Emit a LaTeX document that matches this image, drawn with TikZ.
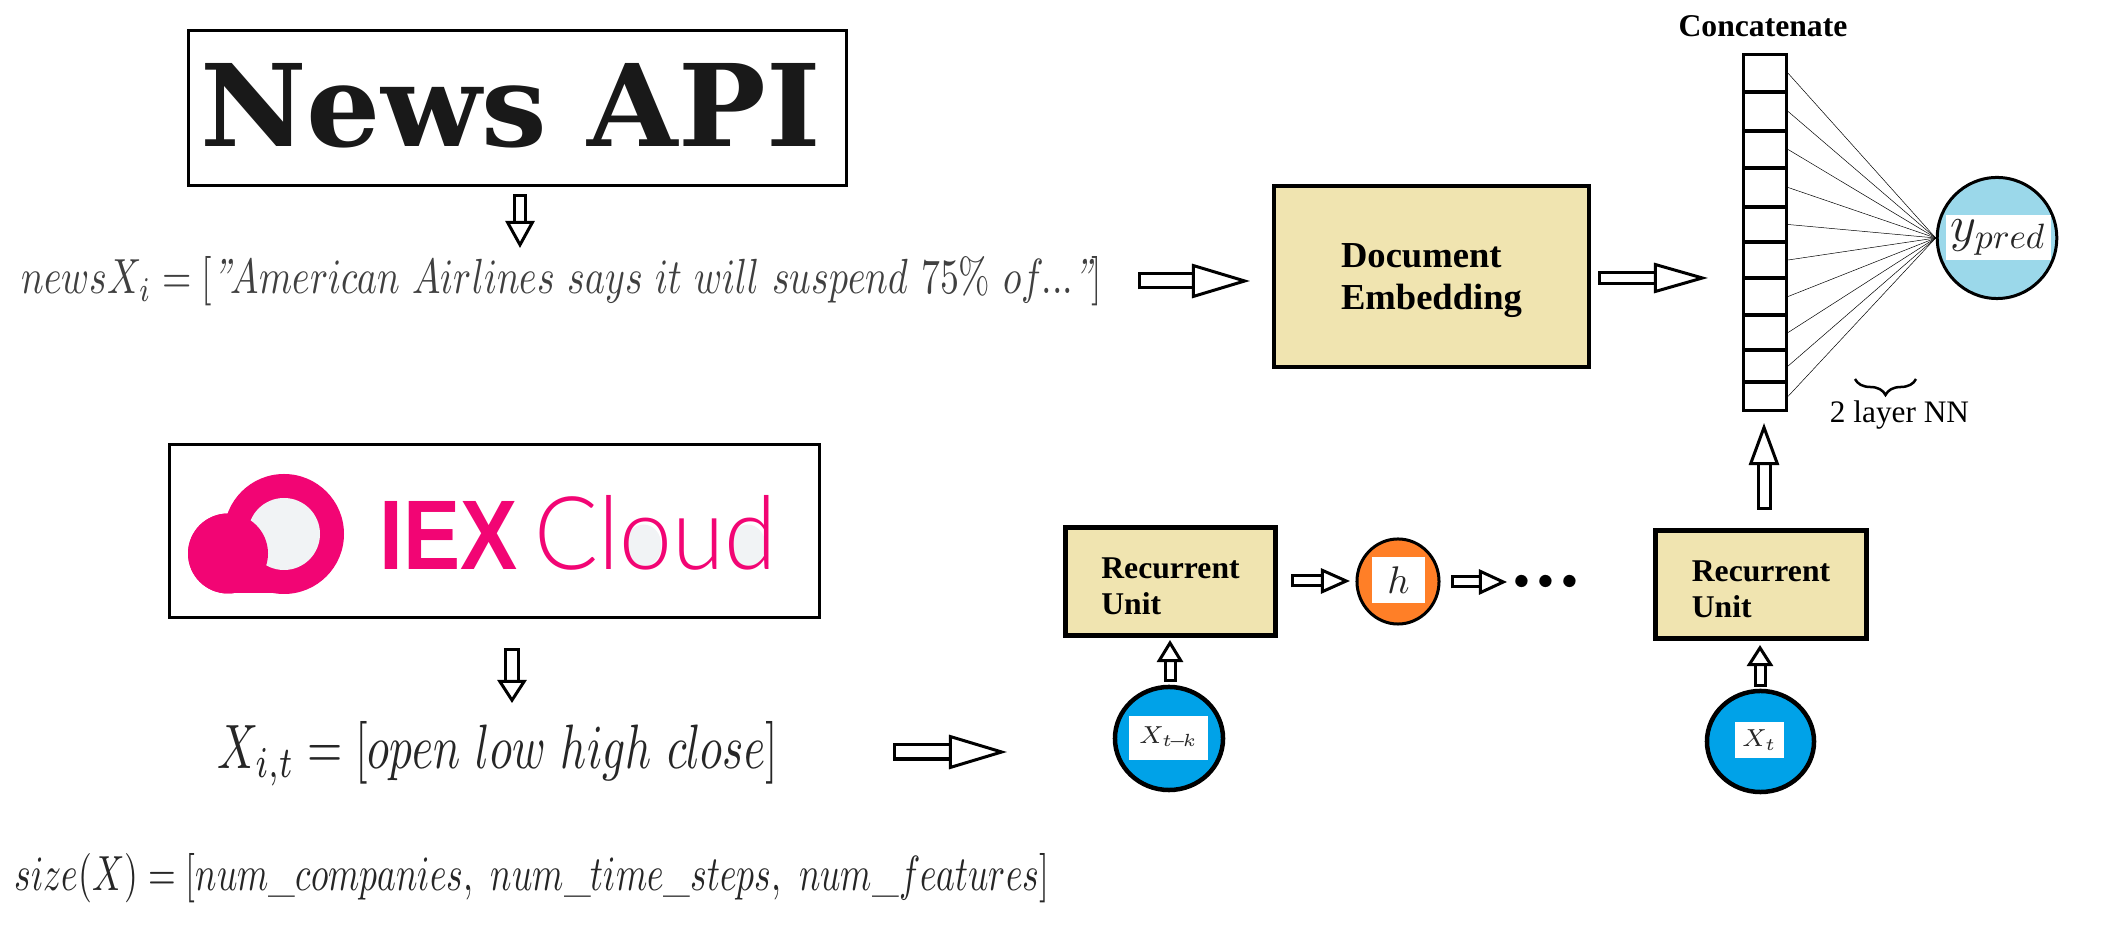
\documentclass[tikz,border=0pt]{standalone}
\usepackage{fontspec}
\usepackage{graphicx}
\usetikzlibrary{shapes.geometric, arrows.meta, decorations.pathreplacing}
\newfontfamily\labelfont{Liberation Serif}
\newfontfamily\newsfont{DejaVu Serif}
\newfontfamily\iexfont{Liberation Sans}
\newfontfamily\cloudfont{Lato Light}
\definecolor{boxtan}{HTML}{F0E4B0}
\definecolor{iexpink}{HTML}{F20574}
\definecolor{iexgray}{HTML}{F1F3F5}
\definecolor{inputblue}{HTML}{00A2E8}
\definecolor{hiddenorange}{HTML}{FF7F27}
\definecolor{outputblue}{HTML}{9BD8EA}
\tikzset{
  logobox/.style={draw, line width=0.03cm, fill=white, inner sep=0pt},
  tanbox/.style={draw, fill=boxtan, inner sep=0pt, align=left, font=\labelfont\bfseries},
  unitbox/.style={tanbox, line width=0.05cm, minimum width=2.1cm, minimum height=1.08cm,
    font=\labelfont\bfseries\fontsize{9}{10.2}\selectfont},
  stackcell/.style={draw, line width=0.032cm, fill=white, inner sep=0pt, minimum width=0.43cm},
  roundnode/.style={ellipse, draw, inner sep=0pt},
  whitelabel/.style={fill=white, inner sep=0pt},
  plaintext/.style={inner sep=0pt},
  % outer shaft width, head width, head length
  blockarrow/.style n args={3}{line width=0.03cm, double=white, double distance=#1-0.06cm,
    {Bar[sep=0pt,width=#1,line width=0.03cm]}-{Triangle[open,fill=white,line width=0.03cm,width=#2,length=#3]}}
}
\begin{document}
\begin{tikzpicture}[x=0.01cm, y=-0.01cm]
  \useasboundingbox (0,0) rectangle (2102,934);
  % news row
  \node[logobox, minimum width=6.58cm, minimum height=1.55cm] (news) at (517.5,108) {};
  \node[plaintext, text=black!90] (newslogo) at (510.5,105.5) {\resizebox{6.2cm}{0.83cm}{\newsfont\bfseries News API}};
  \node[plaintext, text=black!75] (newsx) at (562,281.5) {\resizebox{10.8cm}{0.37cm}{$newsX_i=[\textit{''}American\ Airlines\ says\ it\ will\ suspend\ 75\%\ of...\textit{''}]$}};
  \coordinate (newstip) at (520,248);
  \draw[blockarrow={0.14cm}{0.29cm}{0.27cm}, shorten <=0.07cm] (news.south -| newstip) -- (newstip);
  \node[tanbox, line width=0.04cm, minimum width=3.15cm, minimum height=1.81cm,
    font=\labelfont\bfseries\fontsize{10.4}{12}\selectfont] (doc) at (1431.5,276.5) {\rule{0pt}{9.3pt}Document\\Embedding};
  \coordinate (docin) at (1250,281);
  \draw[blockarrow={0.17cm}{0.34cm}{0.58cm}, shorten <=0.35cm] (newsx.east |- docin) -- (docin);
  \coordinate (docout) at (1708,278);
  \draw[blockarrow={0.14cm}{0.30cm}{0.54cm}, shorten <=0.07cm] (doc.east |- docout) -- (docout);
  % concatenate stack
  \node[plaintext, font=\labelfont\bfseries\fontsize{9}{10}\selectfont] (concat) at (1763,26) {Concatenate};
  \foreach \i/\yc/\h in {1/73.3/37.4, 2/111.5/39, 3/149.5/37, 4/187.5/39, 5/224.5/35,
                         6/260/36, 7/296.5/37, 8/332.5/35, 9/366/32, 10/396.3/28.7} {
    \node[stackcell, minimum height={\h*0.01cm}] (cell\i) at (1765,\yc) {};
  }
  \node[roundnode, fill=outputblue, line width=0.03cm, minimum width=1.195cm, minimum height=1.21cm] (ypred) at (1997,238) {};
  \node[whitelabel, minimum width=1.05cm, minimum height=0.45cm, font=\fontsize{14}{14}\selectfont, text=black!85] (ypredtext) at (1998.5,237.5) {$y_{pred}$};
  \foreach \i in {1,...,10} {
    \draw[line width=0.005cm] (cell\i.east) -- (ypred.west);
  }
  \draw[line width=0.025cm, decorate, decoration={brace, mirror, amplitude=0.16cm}] (1855,379) -- (1916,379);
  \node[plaintext, font=\labelfont\fontsize{8.9}{10}\selectfont] (layers) at (1899.5,415) {2 layer NN};
  % price row
  \node[logobox, minimum width=6.5cm, minimum height=1.73cm] (iex) at (494.5,531) {};
  \fill[iexpink] (284,534) circle (60);
  \fill[iexpink] (228,553.5) circle (40);
  \fill[iexpink] (228,553) rectangle (284,593.5);
  \fill[iexgray] (284,534) circle (36);
  \fill[iexpink] (228,553.5) circle (40);
  \fill[iexgray] (643.5,545.5) ellipse (18 and 21);
  \fill[iexgray] (747.5,545.5) ellipse (18 and 21);
  \node[plaintext, anchor=south west, text=iexpink] (iexlogo) at (379,570) {\resizebox{1.38cm}{0.68cm}{\iexfont\bfseries IEX}};
  \node[plaintext, anchor=south west, text=iexpink] (cloudlogo) at (534,571) {\resizebox{2.42cm}{0.74cm}{\cloudfont Cloud}};
  \node[plaintext, text=black!85] (xit) at (498,753.5) {\resizebox{5.6cm}{0.47cm}{$X_{i,t}=[open\ low\ high\ close]$}};
  \node[plaintext, text=black!85] (sizex) at (532,878.5) {\resizebox{10.34cm}{0.37cm}{$size(X)=[num\_companies,\ num\_time\_steps,\ num\_features]$}};
  \coordinate (iextip) at (512,703);
  \draw[blockarrow={0.16cm}{0.29cm}{0.23cm}, shorten <=0.29cm] (iex.south -| iextip) -- (iextip);
  \coordinate (xitout) at (1007,752);
  \draw[blockarrow={0.17cm}{0.34cm}{0.58cm}, shorten <=1.14cm] (xit.east |- xitout) -- (xitout);
  % recurrent units
  \node[unitbox] (unita) at (1170.5,581.5) {\rule{0pt}{8.4pt}Recurrent\\Unit};
  \node[unitbox] (unitb) at (1761,584.5) {\rule{0pt}{8.4pt}Recurrent\\Unit};
  \node[roundnode, fill=hiddenorange, line width=0.03cm, minimum width=0.82cm, minimum height=0.85cm] (hidden) at (1398,581.5) {};
  \node[whitelabel, minimum width=0.53cm, minimum height=0.46cm, font=\fontsize{11.4}{12}\selectfont, text=black!85] (hiddentext) at (1398.5,580) {$h$};
  \node[plaintext, font=\fontsize{13}{14}\selectfont] (dots) at (1546,584) {\textbullet\kern-3pt\textbullet\kern-3pt\textbullet};
  \node[roundnode, fill=inputblue, line width=0.045cm, minimum width=1.08cm, minimum height=1.03cm] (xtk) at (1169,738.5) {};
  \node[whitelabel, minimum width=0.79cm, minimum height=0.44cm, font=\fontsize{7.5}{8}\selectfont, text=black!85] (xtktext) at (1168.5,738) {$X_{t\!-\!k}$};
  \node[roundnode, fill=inputblue, line width=0.045cm, minimum width=1.07cm, minimum height=1.01cm] (xt) at (1760.5,741.5) {};
  \node[whitelabel, minimum width=0.49cm, minimum height=0.36cm, font=\fontsize{7.5}{8}\selectfont, text=black!85] (xttext) at (1759.5,740) {$X_t$};
  \coordinate (hiddenin) at (1350,581);
  \draw[blockarrow={0.13cm}{0.25cm}{0.29cm}, shorten <=0.13cm] (unita.east |- hiddenin) -- (hiddenin);
  \coordinate (dotsin) at (1507,582);
  \draw[blockarrow={0.13cm}{0.25cm}{0.28cm}, shorten <=0.10cm] (hidden.east |- dotsin) -- (dotsin);
  \coordinate (unitain) at (1170,640);
  \draw[blockarrow={0.13cm}{0.26cm}{0.22cm}, shorten <=0.03cm] (xtk.north -| unitain) -- (unitain);
  \coordinate (unitbin) at (1760,645);
  \draw[blockarrow={0.13cm}{0.26cm}{0.21cm}, shorten <=0.02cm] (xt.north -| unitbin) -- (unitbin);
  \coordinate (concatin) at (1764,423);
  \draw[blockarrow={0.15cm}{0.30cm}{0.42cm}, shorten <=0.18cm] (unitb.north -| concatin) -- (concatin);
\end{tikzpicture}
\end{document}
